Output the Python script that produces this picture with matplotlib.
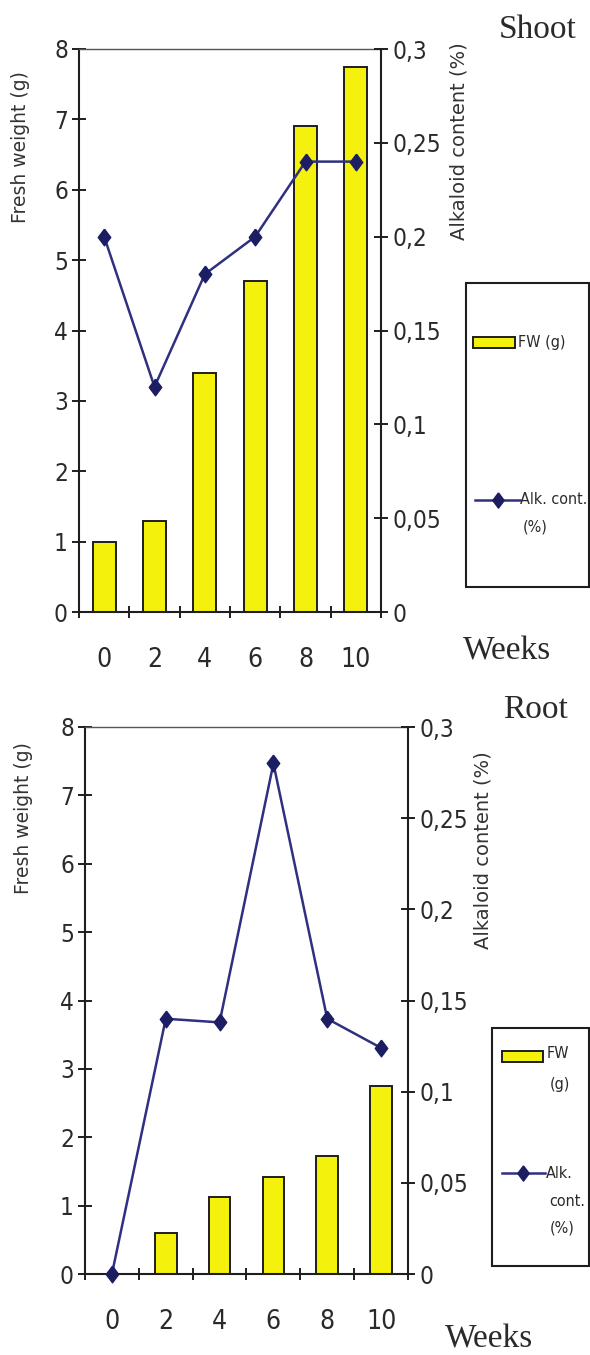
import numpy as np
import matplotlib
matplotlib.use("Agg")
import matplotlib.pyplot as plt
from matplotlib import font_manager
from matplotlib.font_manager import FontProperties
from matplotlib.patches import Rectangle
from matplotlib.lines import Line2D
from matplotlib.ticker import FixedLocator, NullFormatter, FixedFormatter

# ---- data -------------------------------------------------------------
weeks = ["0", "2", "4", "6", "8", "10"]
shoot_fw = [1.0, 1.3, 3.4, 4.7, 6.9, 7.75]
shoot_alk = [0.20, 0.12, 0.18, 0.20, 0.24, 0.24]
root_fw = [0.0, 0.6, 1.13, 1.42, 1.73, 2.75]
root_alk = [0.0, 0.14, 0.138, 0.28, 0.14, 0.124]

fw_ticks = [0, 1, 2, 3, 4, 5, 6, 7, 8]
alk_ticks = [0, 0.05, 0.1, 0.15, 0.2, 0.25, 0.3]
alk_labels = ["0", "0,05", "0,1", "0,15", "0,2", "0,25", "0,3"]

# ---- fonts ------------------------------------------------------------
_fonts = font_manager.fontManager.ttflist
_names = {f.name for f in _fonts}


def narrow_font():
    """A condensed sans face if one is installed, else Liberation Sans."""
    for f in _fonts:
        if f.name == "Liberation Sans Narrow" and f.weight in (400, "normal") \
                and f.style == "normal":
            return FontProperties(fname=f.fname), "narrow"
    for f in _fonts:
        low = f.fname.lower()
        if "condensed" in low and "sans" in low and "bold" not in low \
                and "oblique" not in low and "italic" not in low:
            return FontProperties(fname=f.fname), "condensed"
    name = "Liberation Sans" if "Liberation Sans" in _names else "DejaVu Sans"
    return FontProperties(family=name), "regular"


NARROW_FP, KIND = narrow_font()
SERIF = "Liberation Serif" if "Liberation Serif" in _names else "DejaVu Serif"
TICK_SIZE = {"narrow": 19, "condensed": 17.5, "regular": 17}[KIND]
XTICK_SIZE = {"narrow": 20, "condensed": 19, "regular": 18}[KIND]
LEG_SIZE = {"narrow": 12.5, "condensed": 11.5, "regular": 11}[KIND]


def fp(size):
    p = NARROW_FP.copy()
    p.set_size(size)
    return p


BAR_COLOR = "#f4f20c"
EDGE = "#1e1e1e"
LINE_COLOR = "#2f3080"
MARK_COLOR = "#1c1d62"
TEXT = "#2a2a2a"
DIAMOND = [(0, 1), (0.75, 0), (0, -1), (-0.75, 0), (0, 1)]

W, H = 590, 1355
fig = plt.figure(figsize=(W / 100, H / 100), dpi=100)
fig.patch.set_facecolor("white")


def fx(px):
    return px / W


def fy(py):
    return 1 - py / H


def panel(rect, fw, alk, bar_width, left_lab, right_lab):
    ax = fig.add_axes(rect)
    x = np.arange(len(weeks))
    ax.bar(x, fw, width=bar_width, color=BAR_COLOR, edgecolor=EDGE,
           linewidth=1.4, zorder=2)
    ax.set_xlim(-0.5, len(weeks) - 0.5)
    ax.set_ylim(0, 8)
    ax.set_yticks(fw_ticks)
    ax.set_yticklabels([str(t) for t in fw_ticks])

    # category boundaries carry the tick marks, centres carry the labels
    ax.xaxis.set_major_locator(FixedLocator(np.arange(len(weeks) + 1) - 0.5))
    ax.xaxis.set_major_formatter(NullFormatter())
    ax.xaxis.set_minor_locator(FixedLocator(x))
    ax.xaxis.set_minor_formatter(FixedFormatter(weeks))
    ax.tick_params(axis="x", which="major", direction="inout", length=9,
                   width=1.4, color=EDGE)
    ax.tick_params(axis="x", which="minor", length=0, pad=25,
                   labelcolor=TEXT)
    ax.tick_params(axis="y", direction="inout", length=10, width=1.4,
                   color=EDGE, labelcolor=TEXT, pad=3)
    for lab in ax.get_xticklabels(minor=True):
        lab.set_fontproperties(fp(XTICK_SIZE))
    for lab in ax.get_yticklabels():
        lab.set_fontproperties(fp(TICK_SIZE))

    for s in ("left", "bottom"):
        ax.spines[s].set_linewidth(1.5)
        ax.spines[s].set_color(EDGE)
    ax.spines["top"].set_linewidth(1.0)
    ax.spines["top"].set_color("#555555")
    ax.spines["right"].set_visible(False)
    ax.set_facecolor("none")

    ax2 = ax.twinx()
    ax2.plot(x, alk, color=LINE_COLOR, linewidth=1.8, marker=DIAMOND,
             markersize=12, markerfacecolor=MARK_COLOR,
             markeredgecolor=MARK_COLOR, zorder=3, clip_on=False)
    ax2.set_ylim(0, 0.3)
    ax2.set_yticks(alk_ticks)
    ax2.set_yticklabels(alk_labels)
    ax2.tick_params(axis="y", direction="inout", length=10, width=1.4,
                    color=EDGE, labelcolor=TEXT, pad=3)
    for lab in ax2.get_yticklabels():
        lab.set_fontproperties(fp(TICK_SIZE))
    for s in ("left", "top", "bottom"):
        ax2.spines[s].set_visible(False)
    ax2.spines["right"].set_linewidth(1.5)
    ax2.spines["right"].set_color(EDGE)

    fig.text(fx(left_lab[0]), fy(left_lab[1]), "Fresh weight (g)",
             rotation=90, ha="center", va="center", fontsize=13.5,
             color="#333333", fontfamily="DejaVu Sans")
    fig.text(fx(right_lab[0]), fy(right_lab[1]), "Alkaloid content (%)",
             rotation=90, ha="center", va="center", fontsize=14,
             color="#333333", fontfamily="DejaVu Sans")
    return ax, ax2


def legend_box(box, swatch, fw_lines, line, alk_lines):
    x0, y0, x1, y1 = box
    fig.add_artist(Rectangle((fx(x0), fy(y1)), fx(x1 - x0), (y1 - y0) / H,
                             transform=fig.transFigure, facecolor="white",
                             edgecolor=EDGE, linewidth=1.5))
    sx0, sx1, sy = swatch
    fig.add_artist(Rectangle((fx(sx0), fy(sy + 5.5)), fx(sx1 - sx0), 11 / H,
                             transform=fig.transFigure, facecolor=BAR_COLOR,
                             edgecolor=EDGE, linewidth=1.4))
    for tx, ty, s in fw_lines:
        fig.text(fx(tx), fy(ty), s, ha="left", va="center", color=TEXT,
                 fontproperties=fp(LEG_SIZE))
    lx0, lx1, ly, mx = line
    fig.add_artist(Line2D([fx(lx0), fx(lx1)], [fy(ly), fy(ly)],
                          transform=fig.transFigure, color=LINE_COLOR,
                          linewidth=1.8))
    fig.add_artist(Line2D([fx(mx)], [fy(ly)], transform=fig.transFigure,
                          marker=DIAMOND, markersize=11, linestyle="none",
                          markerfacecolor=MARK_COLOR,
                          markeredgecolor=MARK_COLOR))
    for tx, ty, s in alk_lines:
        fig.text(fx(tx), fy(ty), s, ha="left", va="center", color=TEXT,
                 fontproperties=fp(LEG_SIZE))


# ---- Shoot -------------------------------------------------------------
panel([fx(79), fy(612), fx(381 - 79), (612 - 49) / H], shoot_fw, shoot_alk,
      0.46, (21, 147), (459, 141))
fig.text(fx(538), fy(30), "Shoot", ha="center", va="center", fontsize=24,
         color=TEXT, fontfamily=SERIF)
fig.text(fx(507), fy(651), "Weeks", ha="center", va="center", fontsize=24,
         color=TEXT, fontfamily=SERIF)
legend_box((466, 283, 589, 587), (473, 515, 342),
           [(518, 342, "FW (g)")],
           (475, 520, 500, 498),
           [(520, 500, "Alk. cont."), (523, 527, "(%)")])

# ---- Root --------------------------------------------------------------
panel([fx(85), fy(1274), fx(408 - 85), (1274 - 727) / H], root_fw, root_alk,
      0.40, (24, 818), (483, 850))
fig.text(fx(536), fy(710), "Root", ha="center", va="center", fontsize=24,
         color=TEXT, fontfamily=SERIF)
fig.text(fx(489), fy(1339), "Weeks", ha="center", va="center", fontsize=24,
         color=TEXT, fontfamily=SERIF)
legend_box((492, 1028, 589, 1266), (502, 543, 1056),
           [(547, 1053, "FW"), (550, 1085, "(g)")],
           (502, 545, 1173, 523),
           [(546, 1173, "Alk."), (549, 1202, "cont."), (550, 1228, "(%)")])

fig.savefig("out.png", dpi=100, facecolor="white")
